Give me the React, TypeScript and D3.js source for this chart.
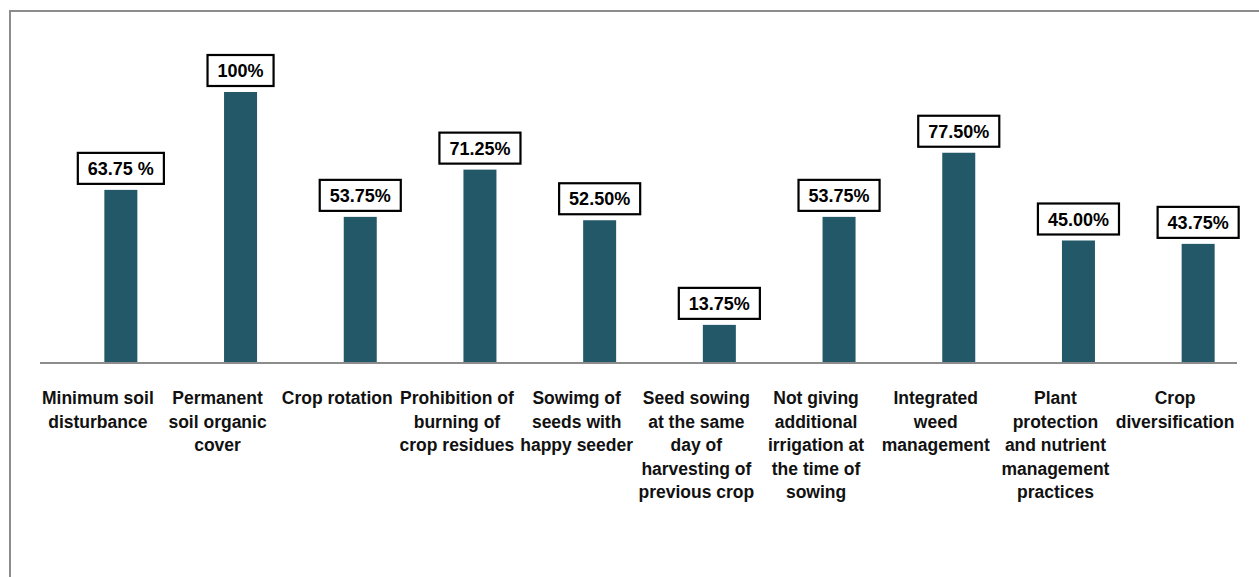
import React, {FC, useEffect, useRef} from 'react';
import * as d3 from 'd3';

// categories, one entry per bar, already split into the lines shown under the axis
const categoryLines: string[][] = [
  ['Minimum soil', 'disturbance'],
  ['Permanent', 'soil organic', 'cover'],
  ['Crop rotation'],
  ['Prohibition of', 'burning of', 'crop residues'],
  ['Sowimg of', 'seeds with', 'happy seeder'],
  ['Seed sowing', 'at the same', 'day of', 'harvesting of', 'previous crop'],
  ['Not giving', 'additional', 'irrigation at', 'the time of', 'sowing'],
  ['Integrated', 'weed', 'management'],
  ['Plant', 'protection', 'and nutrient', 'management', 'practices'],
  ['Crop', 'diversification'],
];
const values = [63.75, 100, 53.75, 71.25, 52.5, 13.75, 53.75, 77.5, 45, 43.75];
const valueLabels = [
  '63.75 %',
  '100%',
  '53.75%',
  '71.25%',
  '52.50%',
  '13.75%',
  '53.75%',
  '77.50%',
  '45.00%',
  '43.75%',
];

const W = 1259;
const H = 577;
const FONT = '"Liberation Sans", Arial, sans-serif';

const App: FC = () => {
  const ref = useRef<SVGSVGElement>(null);

  useEffect(() => {
    const svg = d3.select(ref.current);
    svg.selectAll('*').remove();

    // outer chart border (right/bottom fall outside the picture)
    svg
      .append('rect')
      .attr('x', 10)
      .attr('y', 11)
      .attr('width', W + 20)
      .attr('height', H + 20)
      .attr('fill', 'white')
      .attr('stroke', '#8c8c8c')
      .attr('stroke-width', 2);

    const idx = values.map((_, i) => String(i));
    const x = d3.scaleBand<string>().domain(idx).range([40, 1237]).padding(0);
    const y = d3.scaleLinear().domain([0, 100]).range([362, 92]);
    const barW = 33;
    const barShift = 21;

    // bars
    svg
      .append('g')
      .selectAll('rect')
      .data(values)
      .enter()
      .append('rect')
      .attr('x', (d, i) => x(String(i))! + x.bandwidth() / 2 + barShift - barW / 2)
      .attr('y', d => y(d))
      .attr('width', barW)
      .attr('height', d => y(0) - y(d))
      .attr('fill', '#225867');

    // axis line
    svg
      .append('line')
      .attr('x1', 40)
      .attr('x2', 1237)
      .attr('y1', y(0) + 1)
      .attr('y2', y(0) + 1)
      .attr('stroke', '#8c8c8c')
      .attr('stroke-width', 2);

    // value labels in boxes
    const labels = svg.append('g');
    values.forEach((v, i) => {
      const cx = x(String(i))! + x.bandwidth() / 2 + barShift;
      const bottom = y(v) - 6;
      const bh = 31;
      const g = labels.append('g');
      const rect = g.append('rect');
      const t = g
        .append('text')
        .attr('x', cx)
        .attr('y', bottom - bh / 2 + 6.5)
        .attr('text-anchor', 'middle')
        .attr('font-family', FONT)
        .attr('font-weight', 'bold')
        .attr('font-size', 18)
        .attr('fill', '#000')
        .text(valueLabels[i]);
      const tw = (t.node() as SVGTextElement).getComputedTextLength();
      const bw = tw + 20;
      rect
        .attr('x', cx - bw / 2)
        .attr('y', bottom - bh)
        .attr('width', bw)
        .attr('height', bh)
        .attr('fill', 'white')
        .attr('stroke', '#000')
        .attr('stroke-width', 2.2);
    });

    // category labels
    const cats = svg.append('g');
    categoryLines.forEach((lines, i) => {
      const cx = x(String(i))! + x.bandwidth() / 2 - 2;
      const t = cats
        .append('text')
        .attr('text-anchor', 'middle')
        .attr('font-family', FONT)
        .attr('font-weight', 'bold')
        .attr('font-size', 17.5)
        .attr('fill', '#111');
      lines.forEach((ln, j) => {
        t.append('tspan')
          .attr('x', cx)
          .attr('y', 404 + j * 23.5)
          .text(ln);
      });
    });
  }, []);

  return (
    <svg
      ref={ref}
      width={W}
      height={H}
      style={{position: 'absolute', left: 0, top: 0, background: 'white'}}
    />
  );
};

export default App;
